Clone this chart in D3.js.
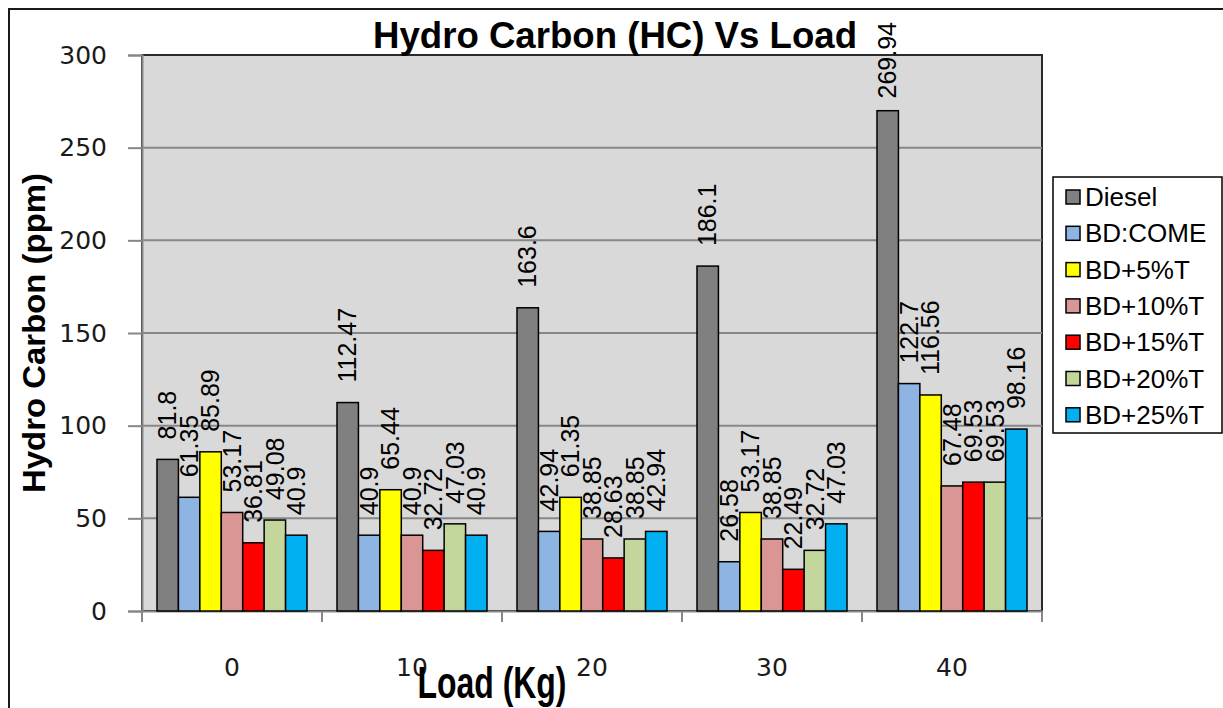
<!DOCTYPE html>
<html>
<head>
<meta charset="utf-8">
<script src="https://cdn.jsdelivr.net/npm/d3@7"></script>
<style>
  body { margin: 0; background: #fff; }
  text { font-family: "Liberation Sans", Arial, sans-serif; }
</style>
</head>
<body>
<script>
// DATA

var loads = ["0", "10", "20", "30", "40"];
var seriesNames = ["Diesel", "BD:COME", "BD+5%T", "BD+10%T", "BD+15%T", "BD+20%T", "BD+25%T"];

var diesel = [81.8, 112.47, 163.6, 186.1, 269.94];
var bdCome = [61.35, 40.9, 42.94, 26.58, 122.7];
var bd5T   = [85.89, 65.44, 61.35, 53.17, 116.56];
var bd10T  = [53.17, 40.9, 38.85, 38.85, 67.48];
var bd15T  = [36.81, 32.72, 28.63, 22.49, 69.53];
var bd20T  = [49.08, 47.03, 38.85, 32.72, 69.53];
var bd25T  = [40.9, 40.9, 42.94, 47.03, 98.16];

var yTicks = [0, 50, 100, 150, 200, 250, 300];

var seriesValues = [diesel, bdCome, bd5T, bd10T, bd15T, bd20T, bd25T];
var colors = ["#808080", "#8eb4e3", "#ffff00", "#d99694", "#ff0000", "#c3d69b", "#00b0f0"];

// CHART STRUCTURE

var svgWidth = 1223;
var svgHeight = 708;

var margin = {top: 55, left: 142};
var chartWidth = 900;
var chartHeight = 556;

// SVG WRAPPER

var svg = d3.select("body")
  .append("svg")
  .attr("width", svgWidth)
  .attr("height", svgHeight);

// outer chart frame (runs off the right and bottom edge)
svg.append("rect")
  .attr("x", 9).attr("y", 9)
  .attr("width", 1300).attr("height", 800)
  .attr("fill", "#fff")
  .attr("stroke", "#1a1a1a")
  .attr("stroke-width", 2);

var chartGroup = svg.append("g")
  .attr("transform", `translate(${margin.left}, ${margin.top})`);

// SCALES

var x0 = d3.scaleBand().domain(loads).range([0, chartWidth]).paddingInner(0).paddingOuter(0);
var x1 = d3.scaleBand().domain(seriesNames).range([0, x0.bandwidth()]).paddingInner(0).paddingOuter(0.7);
var yScale = d3.scaleLinear().domain([0, 300]).range([chartHeight, 0]);

// PLOT AREA

chartGroup.append("rect")
  .attr("width", chartWidth)
  .attr("height", chartHeight)
  .attr("fill", "#d9d9d9")
  .attr("stroke", "#2b2b2b")
  .attr("stroke-width", 2);

// GRID

chartGroup.selectAll(".grid")
  .data(yTicks.filter(d => d > 0 && d < 300))
  .enter()
  .append("line")
  .attr("class", "grid")
  .attr("x1", 0).attr("x2", chartWidth)
  .attr("y1", d => yScale(d)).attr("y2", d => yScale(d))
  .attr("stroke", "#878787")
  .attr("stroke-width", 2);

// AXES

var yAxis = d3.axisLeft(yScale).tickValues(yTicks).tickSize(14).tickPadding(21);
var yAxisG = chartGroup.append("g").call(yAxis);
yAxisG.select(".domain").attr("stroke", "#878787").attr("stroke-width", 2);
yAxisG.selectAll(".tick line").attr("stroke", "#878787").attr("stroke-width", 2);
yAxisG.selectAll(".tick text")
  .style("font-family", "'DejaVu Sans', sans-serif")
  .style("font-size", "25px")
  .attr("fill", "#1a1a1a");

var xAxis = d3.axisBottom(x0).tickSize(0).tickPadding(47);
var xAxisG = chartGroup.append("g")
  .attr("transform", `translate(0, ${chartHeight})`)
  .call(xAxis);
xAxisG.select(".domain").attr("stroke", "#878787").attr("stroke-width", 2);
xAxisG.selectAll(".tick text")
  .style("font-family", "'DejaVu Sans', sans-serif")
  .style("font-size", "25px")
  .attr("fill", "#1a1a1a");

// category boundary ticks
xAxisG.selectAll(".cat-tick")
  .data(loads.concat(["end"]))
  .enter()
  .append("line")
  .attr("class", "cat-tick")
  .attr("x1", (d, i) => i * x0.step()).attr("x2", (d, i) => i * x0.step())
  .attr("y1", 0).attr("y2", 11)
  .attr("stroke", "#878787")
  .attr("stroke-width", 2);

// BARS

var groups = chartGroup.selectAll(".load")
  .data(loads)
  .enter()
  .append("g")
  .attr("class", "load")
  .attr("transform", d => `translate(${x0(d)}, 0)`);

groups.selectAll("rect")
  .data((d, i) => seriesNames.map((s, j) => ({series: s, value: seriesValues[j][i], color: colors[j]})))
  .enter()
  .append("rect")
  .attr("x", d => x1(d.series))
  .attr("y", d => yScale(d.value))
  .attr("width", x1.bandwidth())
  .attr("height", d => chartHeight - yScale(d.value))
  .attr("fill", d => d.color)
  .attr("stroke", "#000")
  .attr("stroke-width", 1.5);

// VALUE LABELS

groups.selectAll(".val")
  .data((d, i) => seriesNames.map((s, j) => ({series: s, value: seriesValues[j][i]})))
  .enter()
  .append("text")
  .attr("class", "val")
  .attr("font-size", 25)
  .attr("fill", "#000")
  .attr("text-anchor", "start")
  .attr("dy", "0.35em")
  .text(d => d.value)
  .attr("transform", function(d) {
    var cx = x1(d.series) + x1.bandwidth() / 2;
    var base = yScale(d.value) - 20;
    var len = this.getComputedTextLength();
    // keep the label inside the chart frame
    if (margin.top + base - len < 22) base = 22 - margin.top + len;
    return `translate(${cx}, ${base}) rotate(-90)`;
  });

// TITLES

svg.append("text")
  .attr("x", 615).attr("y", 48)
  .attr("text-anchor", "middle")
  .attr("font-weight", "bold")
  .attr("font-size", 36)
  .attr("textLength", 484)
  .attr("lengthAdjust", "spacingAndGlyphs")
  .text("Hydro Carbon (HC) Vs Load");

svg.append("text")
  .attr("transform", "translate(45, 333) rotate(-90)")
  .attr("text-anchor", "middle")
  .attr("font-weight", "bold")
  .attr("font-size", 31)
  .attr("textLength", 320)
  .attr("lengthAdjust", "spacingAndGlyphs")
  .text("Hydro Carbon (ppm)");

svg.append("text")
  .attr("x", 492).attr("y", 698)
  .attr("text-anchor", "middle")
  .attr("font-weight", "bold")
  .attr("font-size", 44)
  .attr("textLength", 149)
  .attr("lengthAdjust", "spacingAndGlyphs")
  .text("Load (Kg)");

// LEGEND

var legend = svg.append("g").attr("transform", "translate(1053, 177)");

legend.append("rect")
  .attr("width", 169).attr("height", 256)
  .attr("fill", "#fff")
  .attr("stroke", "#000")
  .attr("stroke-width", 1.5);

var legendItems = legend.selectAll(".item")
  .data(seriesNames)
  .enter()
  .append("g")
  .attr("class", "item")
  .attr("transform", (d, i) => `translate(0, ${20 + i * 36.3})`);

legendItems.append("rect")
  .attr("x", 13).attr("y", -7)
  .attr("width", 14).attr("height", 14)
  .attr("fill", (d, i) => colors[i])
  .attr("stroke", "#000")
  .attr("stroke-width", 1.5);

legendItems.append("text")
  .attr("x", 32).attr("dy", "0.35em")
  .attr("font-size", 26)
  .attr("fill", "#000")
  .text(d => d);
</script>
</body>
</html>
